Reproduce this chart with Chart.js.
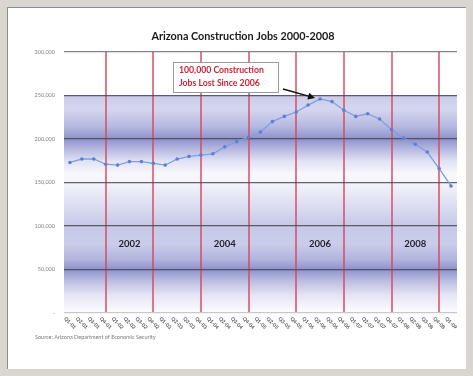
<!DOCTYPE html>
<html>
<head>
<meta charset="utf-8">
<script src="https://cdn.jsdelivr.net/npm/chart.js@4/dist/chart.umd.min.js"></script>
<style>
  html, body { margin: 0; padding: 0; width: 473px; height: 376px; overflow: hidden; background: #d9d6d0; }
  #panel { position: absolute; left: 7px; top: 7px; width: 459px; height: 362px; background: #fff; overflow: hidden;
           border-left: 1px solid #8d8d8d; border-top: 1px solid #8d8d8d; box-sizing: border-box; }
  #c { position: absolute; left: 0; top: 0; width: 458px; height: 361px; }
</style>
</head>
<body>
<div id="panel"><canvas id="c" width="458" height="361"></canvas></div>
<script>
// Quarterly Arizona construction employment
const categories = [
  "Q1-01","Q2-01","Q3-01","Q4-01",
  "Q1-02","Q2-02","Q3-02","Q4-02",
  "Q1-03","Q2-03","Q3-03","Q4-03",
  "Q1-04","Q2-04","Q3-04","Q4-04",
  "Q1-05","Q2-05","Q3-05","Q4-05",
  "Q1-06","Q2-06","Q3-06","Q4-06",
  "Q1-07","Q2-07","Q3-07","Q4-07",
  "Q1-08","Q2-08","Q3-08","Q4-08",
  "Q1-09"
];
const jobs = [
  173000, 177000, 177000, 171000,
  170000, 174000, 174000, 172000,
  170000, 177000, 180000, 181500,
  183000, 191000, 197000, 202000,
  208000, 220000, 226000, 231000,
  239000, 246000, 243000, 233000,
  226000, 229000, 223000, 211000,
  201000, 194000, 185000, 166000,
  146000
];
const yTickValues = [0, 50000, 100000, 150000, 200000, 250000, 300000];
const yTickLabels = ["-", "50,000", "100,000", "150,000", "200,000", "250,000", "300,000"];
const yearLabels = ["2002", "2004", "2006", "2008"];
const yearLabelAt = ["Q2-02", "Q2-04", "Q2-06", "Q2-08"];
const yearLabelValue = 79000;
const noteLines = ["100,000 Construction", "Jobs Lost Since 2006"];
const noteTarget = "Q2-06";
const titleText = "Arizona Construction Jobs 2000-2008";
const sourceText = "Source: Arizona Department of Economic Security";

const FONT = "Lato, 'Open Sans', 'Liberation Sans', sans-serif";

// Banded blue fill behind the plot, stops given as [value, colour]
const bandStops = [
  [300000, "#ffffff"], [251000, "#ffffff"], [250000, "#c9cbe9"], [235000, "#d5d7f0"],
  [215000, "#b7bae1"], [200000, "#8e92ca"], [190000, "#b0b3dd"], [175000, "#e0e1f3"],
  [160000, "#f8f8fc"], [150000, "#f4f4fa"], [125000, "#dddff2"], [100000, "#c5c8e7"],
  [80000, "#cacdea"], [62000, "#b2b5dd"], [50000, "#8e92ca"], [38000, "#b8bbe0"],
  [20000, "#e5e6f5"], [0, "#fdfdff"]
];

const decor = {
  id: "decor",
  beforeDraw(chart) {
    const { ctx, chartArea: a, scales: { y } } = chart;
    const top = y.getPixelForValue(300000), bot = y.getPixelForValue(0);
    const g = ctx.createLinearGradient(0, top, 0, bot);
    bandStops.forEach(([v, c]) => g.addColorStop((300000 - v) / 300000, c));
    ctx.save();
    ctx.fillStyle = g;
    ctx.fillRect(a.left, a.top, a.right - a.left, a.bottom - a.top);
    ctx.restore();
  },
  afterDraw(chart) {
    const { ctx, chartArea: a, scales: { x, y } } = chart;
    ctx.save();

    // chart title
    ctx.fillStyle = "#1a1a1a";
    ctx.font = "bold 10.8px " + FONT;
    ctx.textAlign = "center";
    ctx.textBaseline = "middle";
    ctx.fillText(titleText, 235, 29);

    // year captions inside the plot
    ctx.fillStyle = "#23232f";
    ctx.font = "bold 9.5px " + FONT;
    yearLabels.forEach((t, i) => {
      ctx.fillText(t, x.getPixelForValue(categories.indexOf(yearLabelAt[i])), y.getPixelForValue(yearLabelValue));
    });

    // rotated category labels under the axis
    ctx.fillStyle = "#555";
    ctx.font = "bold 5px " + FONT;
    categories.forEach((c, i) => {
      ctx.save();
      ctx.translate(x.getPixelForValue(i), a.bottom + 10);
      ctx.rotate(Math.PI / 4);
      ctx.fillText(c, 0, 0);
      ctx.restore();
    });

    // source line
    ctx.textAlign = "left";
    ctx.fillStyle = "#7a7a7a";
    ctx.font = "5.5px " + FONT;
    ctx.fillText(sourceText, 27, a.bottom + 24);

    // callout box
    const bx = a.left + 109, by = a.top + 10, bw = 105, bh = 30;
    ctx.fillStyle = "#ffffff";
    ctx.fillRect(bx, by, bw, bh);
    ctx.strokeStyle = "#9a9a9a";
    ctx.lineWidth = 1;
    ctx.strokeRect(bx + 0.5, by + 0.5, bw, bh);
    ctx.fillStyle = "#cf2236";
    ctx.font = "bold 8.7px " + FONT;
    ctx.fillText(noteLines[0], bx + 6, by + 8.5);
    ctx.fillText(noteLines[1], bx + 6, by + 21.5);

    // arrow to the peak
    const ti = categories.indexOf(noteTarget);
    const ex = x.getPixelForValue(ti) - 5, ey = y.getPixelForValue(jobs[ti]) - 1;
    const sx = bx + bw + 5, sy = by + bh - 3;
    const ang = Math.atan2(ey - sy, ex - sx);
    ctx.strokeStyle = "#111";
    ctx.fillStyle = "#111";
    ctx.lineWidth = 1.5;
    ctx.beginPath();
    ctx.moveTo(sx, sy);
    ctx.lineTo(ex - 5 * Math.cos(ang), ey - 5 * Math.sin(ang));
    ctx.stroke();
    ctx.beginPath();
    ctx.moveTo(ex, ey);
    ctx.lineTo(ex - 7 * Math.cos(ang) + 3.5 * Math.sin(ang), ey - 7 * Math.sin(ang) - 3.5 * Math.cos(ang));
    ctx.lineTo(ex - 7 * Math.cos(ang) - 3.5 * Math.sin(ang), ey - 7 * Math.sin(ang) + 3.5 * Math.cos(ang));
    ctx.closePath();
    ctx.fill();

    ctx.restore();
  }
};

new Chart(document.getElementById("c"), {
  type: "line",
  data: {
    labels: categories,
    datasets: [{
      data: jobs,
      borderColor: "#7f9fe0",
      borderWidth: 1.3,
      pointRadius: 1.8,
      pointBackgroundColor: "#5f80cc",
      pointBorderColor: "#5f80cc",
      pointBorderWidth: 0,
      tension: 0
    }]
  },
  options: {
    responsive: false,
    animation: false,
    layout: { padding: { left: 0, right: 9, top: 44, bottom: 0 } },
    plugins: {
      legend: { display: false },
      tooltip: { enabled: false },
      title: { display: false }
    },
    scales: {
      x: {
        offset: true,
        border: { display: false },
        grid: {
          offset: false,
          drawTicks: false,
          lineWidth: 2,
          color: (c) => (c.index % 4 === 3 ? "rgba(214,72,92,0.72)" : "rgba(0,0,0,0)")
        },
        ticks: { display: false },
        afterFit(s) { s.height = 56; }
      },
      y: {
        min: 0,
        max: 300000,
        border: { display: false },
        afterBuildTicks(s) { s.ticks = yTickValues.map(v => ({ value: v })); },
        afterFit(s) { s.width = 56; },
        grid: {
          drawTicks: false,
          lineWidth: 1.2,
          color: (c) => {
            const v = c.tick ? c.tick.value : -1;
            if (v === 0) return "#c9c9c9";
            if (v === 300000) return "rgba(100,100,110,0.8)";
            return "rgba(72,72,90,0.85)";
          }
        },
        ticks: {
          padding: 9,
          color: "#808080",
          font: { family: FONT, size: 5.5 },
          callback: (v) => yTickLabels[yTickValues.indexOf(v)]
        }
      }
    }
  },
  plugins: [decor]
});
</script>
</body>
</html>
